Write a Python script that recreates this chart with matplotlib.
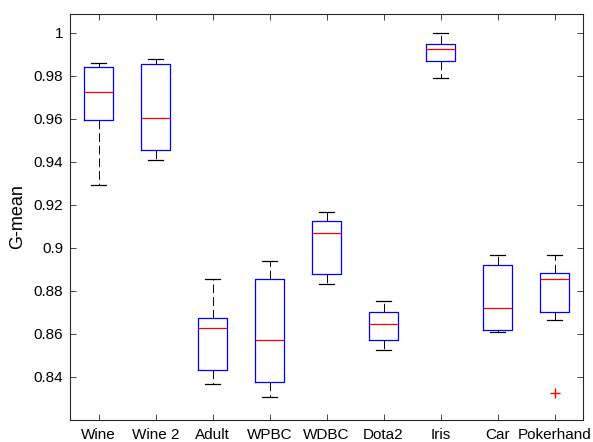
import matplotlib
matplotlib.use("Agg")
import matplotlib.pyplot as plt

plt.rcParams['font.family'] = ['Liberation Sans', 'DejaVu Sans']

categories = ["Wine", "Wine 2", "Adult", "WPBC", "WDBC", "Dota2", "Iris", "Car", "Pokerhand"]
whisker_low = [0.9293, 0.9409, 0.8369, 0.8306, 0.8831, 0.8525, 0.9791, 0.8610, 0.8667]
q1 = [0.9595, 0.9456, 0.8433, 0.8379, 0.8879, 0.8571, 0.9868, 0.8620, 0.8703]
median = [0.9724, 0.9603, 0.8627, 0.8572, 0.9070, 0.8645, 0.9926, 0.8723, 0.8855]
q3 = [0.9843, 0.9854, 0.8673, 0.8857, 0.9127, 0.8704, 0.9950, 0.8920, 0.8884]
whisker_high = [0.9859, 0.9879, 0.8855, 0.8940, 0.9165, 0.8754, 1.0000, 0.8968, 0.8969]
outliers = [[], [], [], [], [], [], [], [], [0.8324]]
yticks = [0.84, 0.86, 0.88, 0.90, 0.92, 0.94, 0.96, 0.98, 1.00]
ytick_labels = ["0.84", "0.86", "0.88", "0.9", "0.92", "0.94", "0.96", "0.98", "1"]

stats = []
for i, name in enumerate(categories):
    stats.append(dict(label=name, whislo=whisker_low[i], q1=q1[i], med=median[i],
                      q3=q3[i], whishi=whisker_high[i], fliers=outliers[i]))

fig = plt.figure(figsize=(5.93, 4.42), dpi=100)
ax = fig.add_axes([70/593, 22/442, 513/593, 406/442])

axc = (0.15, 0.15, 0.15)
ax.bxp(stats, positions=range(1, len(categories) + 1), widths=0.5,
       showfliers=True,
       boxprops=dict(color='blue', linewidth=0.9),
       medianprops=dict(color='red', linewidth=0.9),
       whiskerprops=dict(color='black', linewidth=0.7, linestyle=(0, (9, 4))),
       capprops=dict(color='black', linewidth=0.9),
       capwidths=0.25,
       flierprops=dict(marker='+', markeredgecolor='red', markersize=7, linestyle='none'))

ax.set_xlim(0.5, 9.5)
ax.set_ylim(0.82, 1.0088)
ax.set_yticks(yticks)
ax.set_yticklabels(ytick_labels)
ax.set_xticks(range(1, len(categories) + 1))
ax.set_xticklabels(categories)
ax.tick_params(direction='in', top=True, right=True, length=4, width=0.6,
               color=axc, labelsize=11, labelcolor='black', pad=5)
ax.tick_params(axis='x', pad=6)
for s in ax.spines.values():
    s.set_color(axc)
    s.set_linewidth(0.8)
ax.set_ylabel("G-mean", fontsize=13, labelpad=5)

fig.savefig("out.png", dpi=100)
